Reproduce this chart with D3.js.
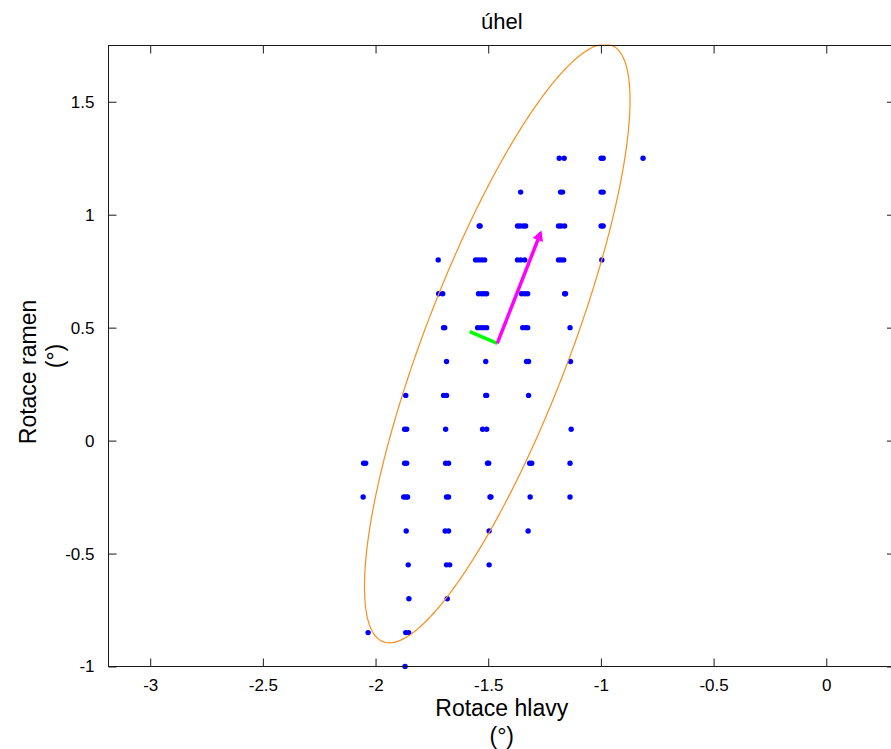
<!DOCTYPE html>
<html>
<head>
<meta charset="utf-8">
<script src="https://cdn.jsdelivr.net/npm/d3@7"></script>
<style>
  html, body { margin: 0; padding: 0; background: #fff; overflow: hidden; }
  svg { display: block; font-family: "Liberation Sans", Arial, sans-serif; }
</style>
</head>
<body>
<svg id="chart" width="891" height="749"></svg>
<script>
// Shoulder-rotation levels (rows) and the head-rotation samples recorded at each level
const shoulderLevels = [1.25, 1.1, 0.95, 0.8, 0.65, 0.5, 0.35, 0.2, 0.05, -0.1, -0.25, -0.4, -0.55, -0.7, -0.85, -1.0];
const headSamples = [
  [-1.185, -1.163, -0.999, -0.990, -0.813],
  [-1.356, -1.179, -1.170, -0.999, -0.990],
  [-1.540, -1.536, -1.370, -1.359, -1.345, -1.334, -1.188, -1.177, -1.161, -0.999, -0.990],
  [-1.722, -1.556, -1.543, -1.529, -1.516, -1.370, -1.356, -1.338, -1.188, -1.177, -1.165, -0.996],
  [-1.720, -1.702, -1.543, -1.529, -1.518, -1.507, -1.352, -1.338, -1.325, -1.161, -1.157],
  [-1.698, -1.693, -1.547, -1.534, -1.520, -1.507, -1.347, -1.334, -1.325, -1.137],
  [-1.685, -1.511, -1.330, -1.321, -1.135],
  [-1.866, -1.698, -1.685, -1.511, -1.507, -1.321],
  [-1.871, -1.862, -1.689, -1.525, -1.507, -1.132],
  [-2.053, -2.044, -1.871, -1.862, -1.689, -1.676, -1.503, -1.498, -1.316, -1.307, -1.137],
  [-2.055, -1.875, -1.866, -1.858, -1.685, -1.676, -1.492, -1.488, -1.314, -1.137],
  [-1.864, -1.691, -1.676, -1.496, -1.323],
  [-1.855, -1.685, -1.671, -1.496],
  [-1.852, -1.682],
  [-2.033, -1.866, -1.853],
  [-1.869]
];

// Confidence ellipse and principal directions
const ellipseCenter = [-1.460, 0.430];
const ellipseAngleDeg = 69.0;
const ellipseSemiAxes = [1.414, 0.322];
const majorVector = [0.193, 0.491];
const minorVector = [-0.122, 0.052];

// Axis ticks
const xTicks = [-3, -2.5, -2, -1.5, -1, -0.5, 0];
const yTicks = [-1, -0.5, 0, 0.5, 1, 1.5];
const xTickLabels = ["-3", "-2.5", "-2", "-1.5", "-1", "-0.5", "0"];
const yTickLabels = ["-1", "-0.5", "0", "0.5", "1", "1.5"];

const plot = { left: 108.5, right: 895, top: 45.5, bottom: 666.5 };
const x = d3.scaleLinear().domain([-3.185, 0.305]).range([plot.left, plot.right]);
const y = d3.scaleLinear().domain([-1, 1.749]).range([plot.bottom, plot.top]);

const svg = d3.select("#chart");

svg.append("defs").append("clipPath").attr("id", "plotClip")
  .append("rect")
  .attr("x", plot.left).attr("y", plot.top - 1)
  .attr("width", plot.right - plot.left).attr("height", plot.bottom - plot.top + 4);

const points = [];
shoulderLevels.forEach((lv, i) => headSamples[i].forEach(h => points.push([h, lv])));

const layer = svg.append("g").attr("clip-path", "url(#plotClip)");

// Scatter of samples
layer.selectAll("circle.pt").data(points).join("circle")
  .attr("class", "pt")
  .attr("cx", d => x(d[0]))
  .attr("cy", d => y(d[1]))
  .attr("r", 2.7)
  .attr("fill", "#0000ff");

// Ellipse outline
const th = ellipseAngleDeg * Math.PI / 180;
const ellipsePts = d3.range(0, 361).map(k => {
  const t = k * Math.PI / 180;
  const u = ellipseSemiAxes[0] * Math.cos(t), v = ellipseSemiAxes[1] * Math.sin(t);
  return [ellipseCenter[0] + u * Math.cos(th) - v * Math.sin(th),
          ellipseCenter[1] + u * Math.sin(th) + v * Math.cos(th)];
});
layer.append("path")
  .datum(ellipsePts)
  .attr("d", d3.line().x(d => x(d[0])).y(d => y(d[1])))
  .attr("fill", "none")
  .attr("stroke", "#ff8c1a")
  .attr("stroke-width", 1.2);

// Minor direction (green)
layer.append("line")
  .attr("x1", x(ellipseCenter[0])).attr("y1", y(ellipseCenter[1]))
  .attr("x2", x(ellipseCenter[0] + minorVector[0])).attr("y2", y(ellipseCenter[1] + minorVector[1]))
  .attr("stroke", "#00ff00").attr("stroke-width", 3.5);

// Major direction (magenta arrow)
const ax0 = x(ellipseCenter[0]), ay0 = y(ellipseCenter[1]);
const ax1 = x(ellipseCenter[0] + majorVector[0]), ay1 = y(ellipseCenter[1] + majorVector[1]);
layer.append("line")
  .attr("x1", ax0).attr("y1", ay0).attr("x2", ax1).attr("y2", ay1)
  .attr("stroke", "#ff00ff").attr("stroke-width", 3.5);
const ang = Math.atan2(ay1 - ay0, ax1 - ax0);
const headLen = 8, headSpread = 0.5;
layer.append("path")
  .attr("d", `M${ax1 - headLen * Math.cos(ang - headSpread)},${ay1 - headLen * Math.sin(ang - headSpread)}L${ax1},${ay1}L${ax1 - headLen * Math.cos(ang + headSpread)},${ay1 - headLen * Math.sin(ang + headSpread)}Z`)
  .attr("fill", "#ff00ff").attr("stroke", "#ff00ff").attr("stroke-width", 2);

// Axes frame and ticks (ticks pointing inward on all four sides)
const axisColor = "#1a1a1a";
const tickLen = 8;
const frame = svg.append("g").attr("fill", "none").attr("stroke", axisColor).attr("stroke-width", 1);
frame.append("rect")
  .attr("x", plot.left).attr("y", plot.top)
  .attr("width", plot.right - plot.left).attr("height", plot.bottom - plot.top);

const xAxisBottom = d3.axisBottom(x).tickValues(xTicks).tickSize(-tickLen).tickFormat((d, i) => xTickLabels[i]).tickPadding(12);
const xAxisTop = d3.axisTop(x).tickValues(xTicks).tickSize(-tickLen).tickFormat("");
const yAxisLeft = d3.axisLeft(y).tickValues(yTicks).tickSize(-tickLen).tickFormat((d, i) => yTickLabels[i]).tickPadding(14);
const yAxisRight = d3.axisRight(y).tickValues(yTicks).tickSize(-tickLen).tickFormat("");

function styleAxis(g) {
  g.select(".domain").remove();
  g.selectAll(".tick line").attr("stroke", axisColor);
  g.selectAll(".tick text").attr("fill", "#000").style("font-size", "17px")
    .style("font-family", "'Liberation Sans', Arial, sans-serif");
}
svg.append("g").attr("transform", `translate(0,${plot.bottom})`).call(xAxisBottom).call(styleAxis);
svg.append("g").attr("transform", `translate(0,${plot.top})`).call(xAxisTop).call(styleAxis);
svg.append("g").attr("transform", `translate(${plot.left},0)`).call(yAxisLeft).call(styleAxis);
svg.append("g").attr("transform", `translate(${plot.right},0)`).call(yAxisRight).call(styleAxis);

// Titles
const cx = (plot.left + plot.right) / 2, cy = (plot.top + plot.bottom) / 2;
svg.append("text").attr("x", cx).attr("y", 29).attr("text-anchor", "middle")
  .style("font-size", "22px").text("úhel");
svg.append("text").attr("x", cx).attr("y", 716).attr("text-anchor", "middle")
  .style("font-size", "23px").text("Rotace hlavy");
svg.append("text").attr("x", cx).attr("y", 744).attr("text-anchor", "middle")
  .style("font-size", "23px").text("(°)");
svg.append("text").attr("transform", `translate(36,${cy + 16}) rotate(-90)`).attr("text-anchor", "middle")
  .style("font-size", "23px").text("Rotace ramen");
svg.append("text").attr("transform", `translate(63,${cy}) rotate(-90)`).attr("text-anchor", "middle")
  .style("font-size", "23px").text("(°)");
</script>
</body>
</html>
